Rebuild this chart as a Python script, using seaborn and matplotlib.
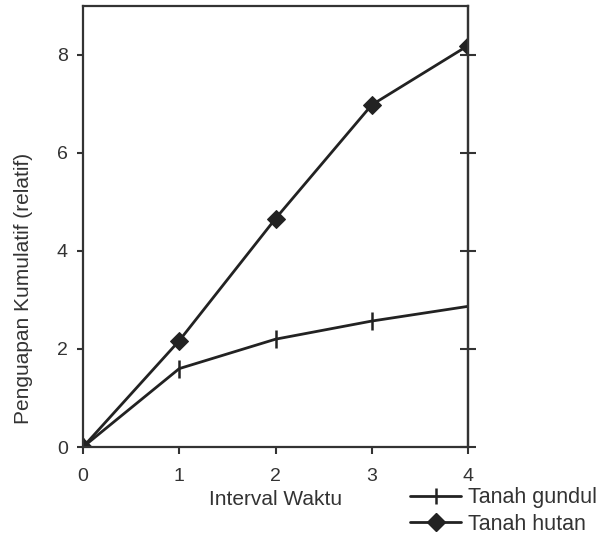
import matplotlib
matplotlib.use("Agg")
import matplotlib.pyplot as plt
import seaborn as sns
from matplotlib.lines import Line2D

interval = [0, 1, 2, 3, 4]
tanah_gundul = [0, 1.6, 2.2, 2.57, 2.87]
tanah_hutan = [0, 2.17, 4.66, 6.98, 8.19]
series_names = ["Tanah gundul", "Tanah hutan"]
x_ticks = [0, 1, 2, 3, 4]
y_ticks = [0, 2, 4, 6, 8]

sns.set_style("ticks")
plt.rcParams["font.family"] = ["Liberation Sans", "DejaVu Sans"]

fig = plt.figure(figsize=(5.99, 5.36), dpi=100)
ax = fig.add_axes([0.1386, 0.166, 0.6427, 0.823])

c = "#222222"
tc = "#333333"
sns.lineplot(x=interval, y=tanah_gundul, color=c, marker="|", markersize=13,
             markeredgewidth=1.8, markeredgecolor=c, linewidth=2.0, ax=ax)
sns.lineplot(x=interval, y=tanah_hutan, color=c, marker="D", markersize=9,
             markeredgecolor=c, markerfacecolor=c, linewidth=2.0, ax=ax)

ax.set_xlim(0, 4)
ax.set_ylim(0, 9)
ax.set_xticks(x_ticks)
ax.set_yticks(y_ticks)
ax.tick_params(axis="both", labelsize=14, colors=tc, width=1.5)
ax.tick_params(axis="x", length=5, pad=10)
ax.tick_params(axis="y", length=4, pad=7)

ax2 = ax.secondary_yaxis("right")
ax2.set_yticks(y_ticks)
ax2.tick_params(direction="inout", length=12, width=1.5, colors=tc)
ax2.set_yticklabels([])

for s in ax.spines.values():
    s.set_visible(True)
    s.set_linewidth(1.6)
    s.set_color(tc)
ax2.spines["right"].set_linewidth(1.6)
ax2.spines["right"].set_color(tc)

ax.set_xlabel("Interval Waktu", fontsize=15, color=tc, labelpad=4)
ax.set_ylabel("Penguapan Kumulatif (relatif)", fontsize=15, color=tc)
ax.yaxis.set_label_coords(-0.13, 0.36)

handles = [
    Line2D([], [], color=c, lw=2.0, marker="|", markersize=11, markeredgewidth=1.8),
    Line2D([], [], color=c, lw=2.0, marker="D", markersize=9),
]
fig.legend(handles, series_names, loc="upper left", bbox_to_anchor=(0.684, 0.091),
           frameon=False, fontsize=15.5, handlelength=2.4, handletextpad=0.3,
           labelspacing=0.25, borderaxespad=0, borderpad=0, labelcolor=tc)

fig.savefig("out.png", dpi=100)
